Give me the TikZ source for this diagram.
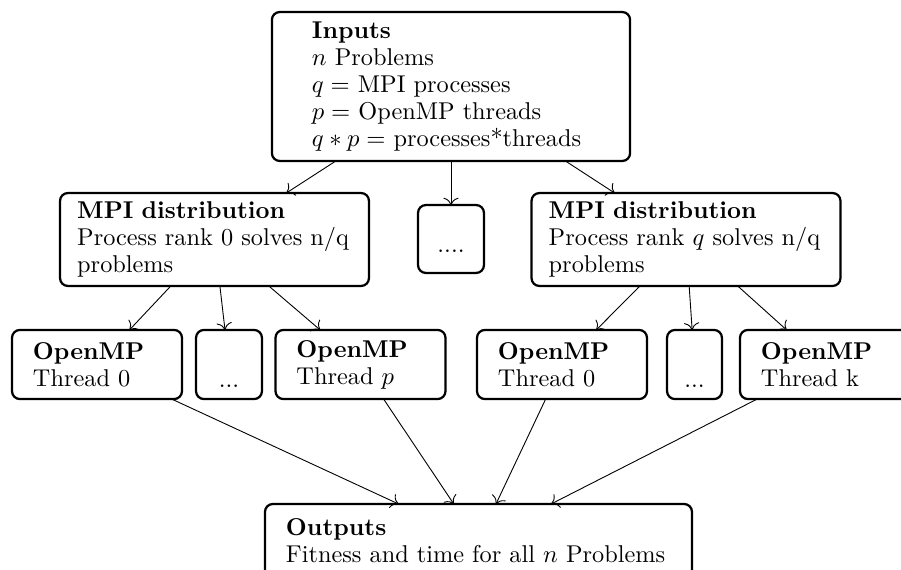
\documentclass[tikz,border=0pt]{standalone}
\usepackage{amsmath}
\usepackage{xcolor}
\usepackage{tikz}
\usetikzlibrary{arrows.meta}

\begin{document}
\begin{tikzpicture}[x=0.4444pt,y=0.4444pt,yscale=-1,xscale=1,
  box/.style={draw, line width=1pt, rounded corners=3.5pt, outer sep=0pt, inner ysep=0pt, font=\fontsize{10.8}{12}\selectfont},
  txtbox/.style={box, align=left},
  dotbox/.style={box, align=center, inner xsep=0pt},
  conn/.style={-{To[scale=1.3]}, line width=0.4pt}]

\useasboundingbox (0,0) rectangle (901,570);


\draw (451,86.5) node (inputs) [txtbox, text width=123.6pt, inner xsep=17.8pt, minimum height=66.2pt] {\textbf{Inputs}\\$n$ Problems\\$q=$ MPI processes\\$p=$ OpenMP threads\\$q*p=$ processes*threads};

\draw (214.5,239.5) node (mpil) [txtbox, text width=122pt, inner xsep=7.65pt, minimum height=41.3pt] {\textbf{MPI distribution}\\Process rank 0 solves n/q\\problems};

\draw (451,239) node (dotsm) [dotbox, minimum width=29.3pt, minimum height=30.2pt] {\mbox{}\\....};

\draw (686,239.5) node (mpir) [txtbox, text width=122pt, inner xsep=7.65pt, minimum height=41.3pt] {\textbf{MPI distribution}\\Process rank $q$ solves n/q\\problems};

\draw (97,364.5) node (ompa) [txtbox, text width=56.9pt, inner xsep=9.33pt, minimum height=30.7pt] {\textbf{OpenMP}\\Thread 0};

\draw (229,364.5) node (dotsa) [dotbox, minimum width=29.3pt, minimum height=30.7pt] {\strut\\...};

\draw (360.5,364.5) node (ompb) [txtbox, text width=56.9pt, inner xsep=9.33pt, minimum height=30.7pt] {\textbf{OpenMP}\\Thread $p$};

\draw (562,364.5) node (ompc) [txtbox, text width=56.9pt, inner xsep=9.33pt, minimum height=30.7pt] {\textbf{OpenMP}\\Thread 0};

\draw (694.5,364.5) node (dotsb) [dotbox, minimum width=24.4pt, minimum height=30.7pt] {\strut\\...};

\draw (825,364.5) node (ompd) [txtbox, text width=56.9pt, inner xsep=9.33pt, minimum height=30.7pt] {\textbf{OpenMP}\\Thread k};

\draw (478.5,541) node (outputs) [txtbox, text width=171.1pt, inner xsep=9.33pt, minimum height=32.9pt] {\textbf{Outputs}\\Fitness and time for all $n$ Problems};


\draw [conn] (inputs) -- (mpil);
\draw [conn] (inputs) -- (dotsm);
\draw [conn] (inputs) -- (mpir);

\draw [conn] (mpil) -- (ompa);
\draw [conn] (mpil) -- (dotsa);
\draw [conn] (mpil) -- (ompb);

\draw [conn] (mpir) -- (ompc);
\draw [conn] (mpir) -- (dotsb);
\draw [conn] (mpir) -- (ompd);

\draw [conn] (ompa) -- (outputs);
\draw [conn] (ompb) -- (outputs);
\draw [conn] (ompc) -- (outputs);
\draw [conn] (ompd) -- (outputs);


\end{tikzpicture}
\end{document}
